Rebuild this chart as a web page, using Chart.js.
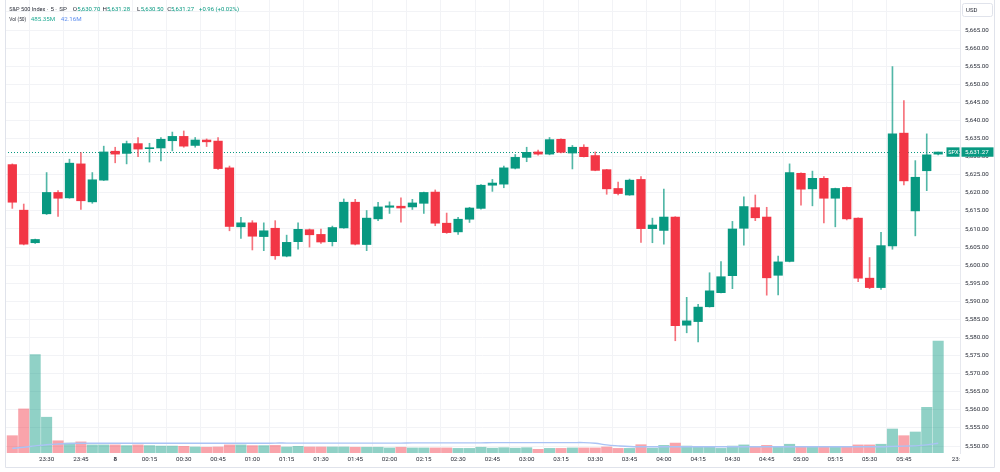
<!DOCTYPE html>
<html>
<head>
<meta charset="utf-8">
<title>S&amp;P 500 Index · 5 min</title>
<script src="https://cdn.jsdelivr.net/npm/chart.js"></script>
<style>
html, body { margin: 0; padding: 0; background: #fff; }
#wrap { position: relative; width: 1000px; height: 472px; }
</style>
</head>
<body>
<div id="wrap"><canvas id="chart" width="1000" height="472"></canvas></div>
<script>
/* ============== Data (5 min bars, 23:15 → 06:00) ============== */

const open = [5627.8,5615.2,5606.2,5614.2,5620.1,5618.6,5628.0,5617.5,5623.5,5631.5,
    5630.9,5633.6,5632.2,5632.4,5634.4,5635.6,5633.1,5634.6,5634.3,5626.9,
    5610.6,5611.7,5607.9,5610.2,5602.5,5606.5,5609.8,5608.5,5606.5,5610.3,
    5617.4,5605.7,5612.8,5616.0,5616.3,5616.1,5617.1,5620.2,5611.6,5609.2,
    5612.7,5615.7,5622.1,5622.4,5626.8,5629.8,5631.3,5630.7,5634.8,5631.0,
    5632.6,5630.3,5626.4,5621.2,5619.4,5623.7,5610.1,5609.6,5613.3,5583.4,
    5584.4,5588.5,5592.4,5597.1,5610.2,5615.9,5613.3,5597.2,5601.0,5625.4,
    5621.1,5624.0,5618.5,5621.5,5613.0,5596.4,5593.8,5605.3,5636.5,5615.0,
    5626.1,5630.70];
const high = [5628.0,5616.9,5607.2,5625.6,5620.6,5629.3,5631.1,5625.6,5632.9,5632.6,
    5634.3,5635.3,5633.7,5635.3,5636.8,5637.1,5635.3,5634.9,5635.3,5627.4,
    5613.2,5612.3,5611.7,5612.3,5608.3,5611.7,5610.0,5610.0,5610.8,5618.3,
    5618.2,5615.1,5617.4,5617.5,5618.6,5618.2,5620.2,5620.8,5614.4,5613.2,
    5616.0,5622.3,5623.7,5627.4,5630.6,5632.6,5631.8,5635.3,5634.9,5633.1,
    5633.3,5631.3,5626.5,5623.0,5623.8,5624.5,5613.0,5621.0,5613.4,5591.1,
    5589.2,5597.9,5601.0,5612.1,5618.9,5619.4,5616.0,5602.5,5628.0,5625.5,
    5626.0,5624.5,5621.3,5621.6,5613.1,5602.1,5609.1,5654.9,5645.5,5628.9,
    5636.3,5631.28];
const low = [5615.7,5605.6,5606.0,5614.0,5613.5,5618.5,5615.4,5617.1,5623.4,5628.3,
    5628.0,5630.0,5628.5,5628.8,5631.6,5632.6,5632.6,5632.8,5626.5,5609.5,
    5607.4,5604.2,5604.0,5601.6,5602.3,5604.4,5605.0,5606.0,5605.3,5610.2,
    5605.6,5604.0,5612.3,5614.3,5611.9,5615.4,5614.3,5610.9,5608.8,5608.5,
    5611.8,5615.5,5620.4,5621.4,5626.6,5628.6,5630.4,5630.5,5631.0,5626.6,
    5629.9,5626.1,5619.6,5619.4,5619.3,5606.3,5606.2,5605.8,5579.1,5581.3,
    5578.8,5588.4,5592.3,5593.5,5605.5,5612.3,5591.7,5591.8,5600.9,5616.6,
    5616.4,5611.7,5610.6,5612.5,5595.4,5593.5,5593.3,5604.4,5622.2,5608.1,
    5620.6,5630.50];
const close = [5617.4,5605.8,5607.1,5620.1,5618.5,5628.2,5617.8,5623.6,5631.3,5630.7,
    5633.6,5632.1,5632.4,5634.8,5635.6,5632.9,5634.6,5634.1,5626.7,5610.7,
    5611.7,5608.0,5609.5,5602.6,5606.3,5609.9,5608.4,5606.4,5610.4,5617.4,
    5605.8,5613.0,5616.1,5616.4,5615.8,5617.2,5620.1,5611.6,5609.0,5612.7,
    5615.8,5622.1,5622.7,5626.9,5629.8,5631.2,5630.7,5634.7,5631.2,5632.6,
    5630.0,5626.2,5621.1,5619.8,5623.5,5610.1,5611.1,5613.3,5583.3,5584.6,
    5588.4,5592.9,5596.8,5610.0,5616.2,5613.1,5596.5,5600.9,5625.6,5621.0,
    5624.0,5618.5,5621.2,5612.8,5596.4,5593.8,5605.4,5636.3,5623.3,5624.3,
    5630.5,5631.27];

// volume in millions
const volume = [75,191,426,155,53,43,48,35,35,35,
    32,35,32,30,30,29,26,25,26,35,
    35,32,32,33,26,29,26,26,26,26,
    25,25,25,22,25,22,22,22,22,20,
    20,25,21,23,21,23,16,20,20,22,
    22,22,26,20,20,36,21,33,43,30,
    29,29,20,30,35,26,33,26,38,29,
    26,29,29,29,35,35,38,104,75,91,
    198,485.35];
// Vol MA(50)
const volMa = [20,25,31,36,39,41,42,42,42,42,
    42,42,42,42,42,42,42,42,42,42,
    42,42,42,43,43,43,43,43,43,43,
    43,43,43,43,43,44,44,44,44,44,
    44,44,45,45,45,45,45,45,45,45,
    45,42,35,31,28,27,27,27,27,27,
    27,27,27,27,27,27,27,27,27,27,
    27,27,27,27,27,27,27,28.5,30,31,
    35,42.16];

// time axis: bar index → label
const tickIdx = [3,6,9,12,15,18,21,24,27,30,33,36,39,42,45,48,51,54,57,60,63,66,69,72,75,78,82.55];
const tickLbl = ['23:30','23:45','8','00:15','00:30','00:45','01:00','01:15','01:30','01:45','02:00','02:15',
    '02:30','02:45','03:00','03:15','03:30','03:45','04:00','04:15','04:30','04:45','05:00','05:15',
    '05:30','05:45','23:'];

/* ============== Styles ============== */

const UP = '#089981';
const DOWN = '#f23645';
const UP_WICK = 'rgba(8,153,129,0.7)';
const DOWN_WICK = 'rgba(242,54,69,0.7)';
const UP_VOL = 'rgba(8,153,129,0.45)';
const DOWN_VOL = 'rgba(242,54,69,0.45)';
const GRID = '#f2f3f6';
const TEXT = '#2a2e39';
const FONT = 'Roboto, "Noto Sans", sans-serif';

const bars = open.map((_, i) => i);
const isUp = i => close[i] >= open[i];
const last = close.length - 1;

// legend lines: [text, colour, x, max width]
const header1 = [
    ['S&P 500 Index', TEXT, 9.3, 36], ['·', TEXT, 46.8, 3], ['5', TEXT, 50.6, 4],
    ['·', TEXT, 55.2, 3], ['SP', TEXT, 59.3, 12],
    ['O', TEXT, 72.8, 5], ['5,630.70', UP, 77.3, 23],
    ['H', TEXT, 102.5, 5], ['5,631.28', UP, 107, 23],
    ['L', TEXT, 137, 4], ['5,630.50', UP, 140.7, 23],
    ['C', TEXT, 167.2, 5], ['5,631.27', UP, 171, 23],
    ['+0.96 (+0.02%)', UP, 199, 40]
];
const header2 = [['Vol (50)', TEXT, 9.3, 17], ['485.35M', '#22ab94', 30.7, 28], ['42.16M', '#5b8def', 60.7, 21]];

/* ============== Overlay: header, tags, frame ============== */

const fmt = v => v.toLocaleString('en-US', { minimumFractionDigits: 2, maximumFractionDigits: 2 });

const tvOverlay = {
    id: 'tvOverlay',
    beforeDatasetsDraw(chart) {
        const { ctx, chartArea, scales } = chart;
        const y = Math.round(scales.y.getPixelForValue(close[last])) + 0.5;
        ctx.save();
        ctx.strokeStyle = UP;
        ctx.lineWidth = 1;
        ctx.setLineDash([1, 2]);
        ctx.beginPath();
        ctx.moveTo(chartArea.left, y);
        ctx.lineTo(chartArea.right, y);
        ctx.stroke();
        ctx.restore();
    },
    afterDraw(chart) {
        const { ctx, scales } = chart;
        ctx.save();

        // frame
        ctx.strokeStyle = '#e0e3eb';
        ctx.lineWidth = 1;
        ctx.beginPath();
        ctx.moveTo(5.5, 0); ctx.lineTo(5.5, 467.5);
        ctx.lineTo(994.5, 467.5); ctx.lineTo(994.5, 0);
        ctx.stroke();

        // USD box
        ctx.fillStyle = '#fff';
        ctx.fillRect(961, 0, 33, 20);
        ctx.beginPath();
        ctx.roundRect(962.5, 3.5, 30, 13, 2);
        ctx.fill();
        ctx.stroke();
        ctx.fillStyle = TEXT;
        ctx.font = '6px ' + FONT;
        ctx.textBaseline = 'middle';
        ctx.fillText('USD', 966, 10.5);

        // last price tag + symbol tag
        const y = scales.y.getPixelForValue(close[last]);
        ctx.fillStyle = UP;
        ctx.fillRect(961.5, y - 4.7, 32, 9.4);
        ctx.fillRect(946.5, y - 4.7, 13, 9.4);
        ctx.fillStyle = '#fff';
        ctx.font = '6.2px ' + FONT;
        ctx.fillText(fmt(close[last]), 965, y + 0.3);
        ctx.font = '5.6px ' + FONT;
        ctx.fillText('SPX', 948.3, y + 0.3);

        // header
        ctx.font = '6.2px ' + FONT;
        header1.forEach(([t, c, x, w]) => { ctx.fillStyle = c; ctx.fillText(t, x, 9, w); });
        header2.forEach(([t, c, x, w]) => { ctx.fillStyle = c; ctx.fillText(t, x, 19.2, w); });

        ctx.restore();
    }
};

// keep the plot area flush with the canvas edges
function noPad(s) {
    s.paddingTop = 0;
    s.paddingBottom = 0;
    s.paddingLeft = 0;
    s.paddingRight = 0;
}

/* ============== Chart ============== */

const ctx = document.getElementById('chart').getContext('2d');
new Chart(ctx, {
    type: 'bar',
    data: {
        datasets: [
            {
                label: 'body',
                data: bars.map(i => ({ x: i, y: [open[i], close[i]] })),
                backgroundColor: bars.map(i => isUp(i) ? UP : DOWN),
                barThickness: 8.6,
                minBarLength: 1,
                grouped: false,
                yAxisID: 'y'
            },
            {
                label: 'wick',
                data: bars.map(i => ({ x: i, y: [low[i], high[i]] })),
                backgroundColor: bars.map(i => isUp(i) ? UP_WICK : DOWN_WICK),
                barThickness: 1,
                grouped: false,
                yAxisID: 'y'
            },
            {
                type: 'line',
                label: 'Vol MA',
                data: bars.map(i => ({ x: i, y: volMa[i] })),
                borderColor: '#aac3f5',
                borderWidth: 1.4,
                pointRadius: 0,
                tension: 0.4,
                yAxisID: 'v'
            },
            {
                label: 'Vol',
                data: bars.map(i => ({ x: i, y: volume[i] })),
                backgroundColor: bars.map(i => isUp(i) ? UP_VOL : DOWN_VOL),
                barThickness: 10.4,
                grouped: false,
                yAxisID: 'v'
            }
        ]
    },
    options: {
        responsive: false,
        animation: false,
        events: [],
        layout: { padding: { left: 5, right: 0, top: 0, bottom: 0 } },
        plugins: { legend: { display: false }, tooltip: { enabled: false } },
        scales: {
            x: {
                type: 'linear',
                min: -0.64,
                max: 82.91,
                offset: false,
                afterBuildTicks: s => { s.ticks = tickIdx.map(v => ({ value: v })); },
                afterFit: s => { s.height = 19; noPad(s); },
                ticks: {
                    autoSkip: false,
                    maxRotation: 0,
                    padding: 3,
                    color: TEXT,
                    font: c => ({ family: FONT, size: 6.2, weight: c.index === 2 ? 'bold' : 'normal' }),
                    callback: (v, k) => tickLbl[k]
                },
                grid: {
                    color: c => c.index === tickIdx.length - 1 ? 'rgba(0,0,0,0)' : GRID,
                    drawTicks: false
                },
                border: { display: false }
            },
            y: {
                position: 'right',
                min: 5548.065,
                max: 5673.31,
                afterFit: s => { s.width = 40; noPad(s); },
                ticks: {
                    stepSize: 5,
                    includeBounds: false,
                    padding: 5,
                    color: TEXT,
                    font: { family: FONT, size: 6.2 },
                    callback: v => fmt(v)
                },
                grid: { color: GRID, drawTicks: false },
                border: { display: true, color: '#e6e8ee' }
            },
            v: {
                display: false,
                min: 0,
                max: 1962.7
            }
        }
    },
    plugins: [tvOverlay]
});
</script>
</body>
</html>
